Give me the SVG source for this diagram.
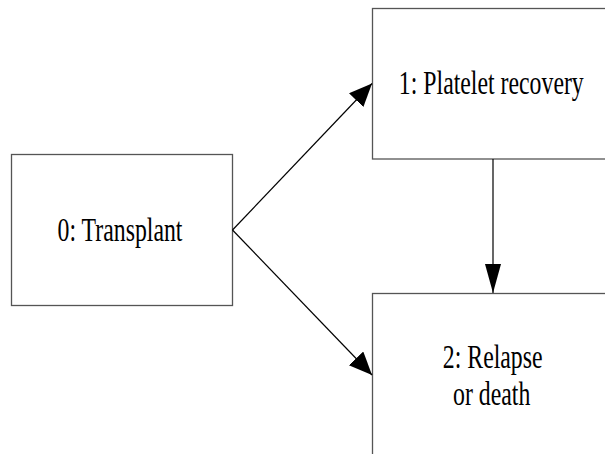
<svg xmlns="http://www.w3.org/2000/svg" width="605" height="454" viewBox="0 0 605 454">
<style>
.box{fill:#fff;stroke:#555;stroke-width:1.3}
.lbl{font-family:"Liberation Serif","Times New Roman","DejaVu Serif",serif;font-size:34px;fill:#000;text-anchor:middle}
.edge{stroke:#000;stroke-width:1.2;fill:none}
</style>
<defs>
<marker id="ahD" markerUnits="userSpaceOnUse" markerWidth="24" markerHeight="22" refX="23" refY="10" orient="auto">
<path d="M0,0 L23,10 L0,20 z" fill="#000"/>
</marker>
<marker id="ahV" markerUnits="userSpaceOnUse" markerWidth="30" markerHeight="18" refX="29" refY="8" orient="auto">
<path d="M0,0 L29,8 L0,16 z" fill="#000"/>
</marker>
</defs>
<rect width="605" height="454" fill="#fff"/>
<g id="node0">
<rect class="box" x="11.5" y="154.5" width="221" height="151"/>
<text class="lbl" transform="translate(120,240.5) scale(0.7,1)">0: Transplant</text>
</g>
<g id="node1">
<rect class="box" x="372.5" y="8.5" width="240" height="150.5"/>
<text class="lbl" transform="translate(491.3,94) scale(0.7,1)">1: Platelet recovery</text>
</g>
<g id="node2">
<rect class="box" x="372.5" y="293.5" width="240" height="170"/>
<text class="lbl" transform="translate(492.7,367.5) scale(0.7,1)">2: Relapse</text>
<text class="lbl" transform="translate(491.7,405) scale(0.7,1)">or death</text>
</g>
<g id="connectors">
<line class="edge" x1="232.5" y1="230" x2="372" y2="83.5" marker-end="url(#ahD)"/>
<line class="edge" x1="232.5" y1="230" x2="372" y2="375" marker-end="url(#ahD)"/>
<line class="edge" x1="493" y1="159" x2="493" y2="293" marker-end="url(#ahV)"/>
</g>
</svg>
